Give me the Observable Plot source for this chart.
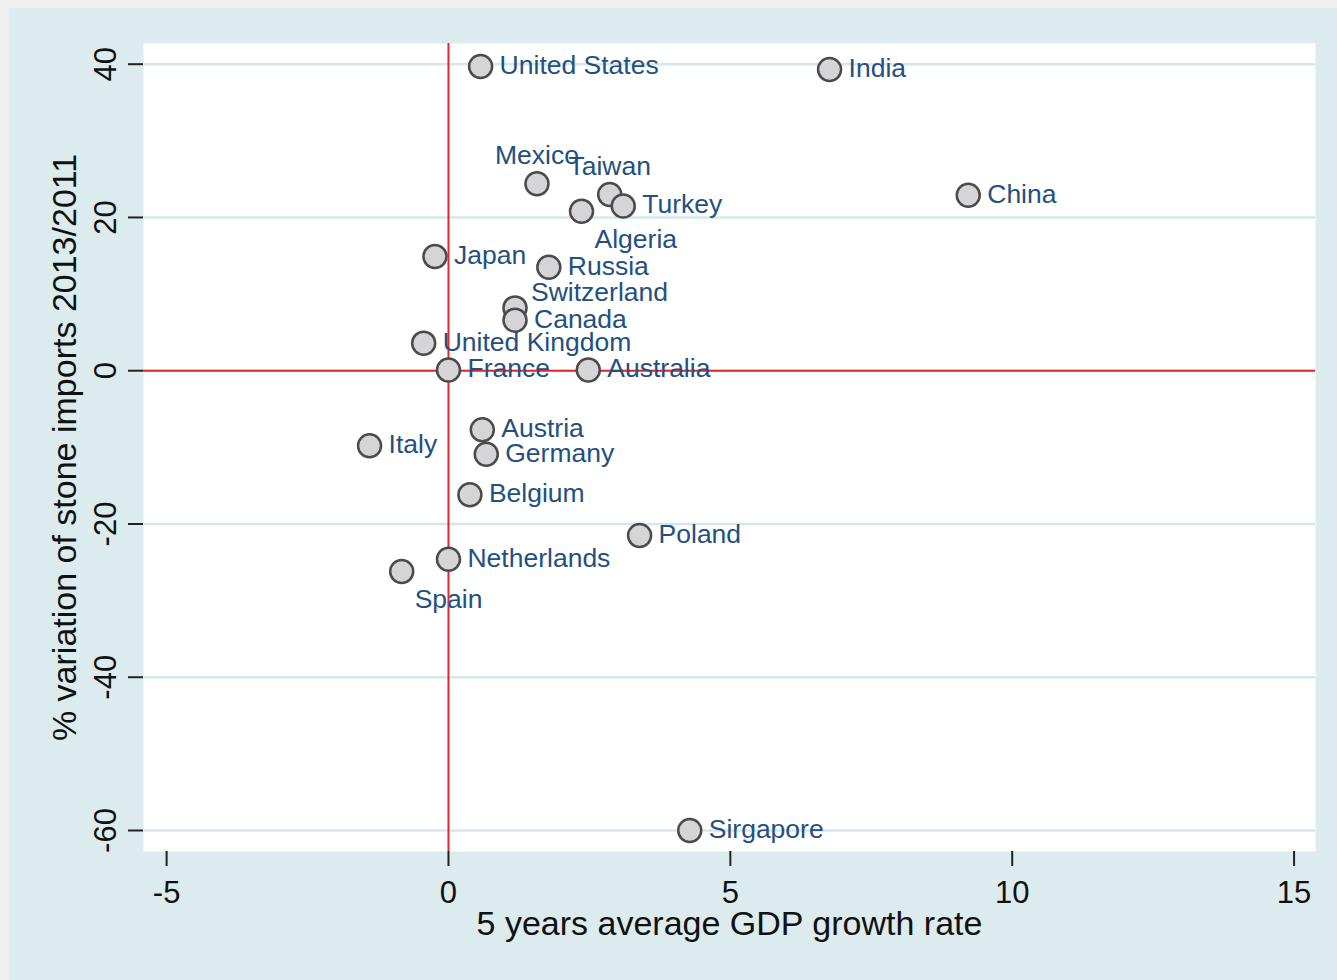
<!DOCTYPE html>
<html>
<head>
<meta charset="utf-8">
<script src="https://cdn.jsdelivr.net/npm/d3@7"></script>
<script src="https://cdn.jsdelivr.net/npm/@observablehq/plot@0.6"></script>
<style>
  html, body { margin: 0; padding: 0; background: #eff1f1; }
  #panel { position: absolute; left: 9px; top: 8px; width: 1328px; height: 972px; background: #dbebee; }
</style>
</head>
<body>
<div id="panel"></div>
<script>
// ---- data ----
const countries = ["United States", "India", "Mexico", "Taiwan", "Turkey", "Algeria", "China", "Japan", "Russia",
  "Switzerland", "Canada", "United Kingdom", "France", "Australia", "Italy", "Austria", "Germany", "Belgium",
  "Poland", "Netherlands", "Spain", "Sirgapore"];
const gdpGrowth = [0.57, 6.76, 1.57, 2.86, 3.10, 2.36, 9.22, -0.24, 1.78,
  1.18, 1.18, -0.44, 0.0, 2.48, -1.40, 0.60, 0.67, 0.38,
  3.39, 0.0, -0.83, 4.28];
const stoneImportVar = [39.7, 39.3, 24.4, 23.0, 21.5, 20.8, 22.9, 14.9, 13.5,
  8.2, 6.6, 3.6, 0.1, 0.1, -9.8, -7.7, -10.9, -16.2,
  -21.5, -24.6, -26.2, -60.0];
const xTicks = [-5, 0, 5, 10, 15];
const yTicks = [-60, -40, -20, 0, 20, 40];
const xTitle = "5 years average GDP growth rate";
const yTitle = "% variation of stone imports 2013/2011";

const rows = countries.map((c, i) => ({country: c, x: gdpGrowth[i], y: stoneImportVar[i]}));

// label placement (clock positions, default 3 o'clock)
const labelClock = {"Mexico": 12, "Taiwan": 12, "Algeria": 5, "Spain": 5, "Switzerland": 1};
const clockOf = d => labelClock[d.country] ?? 3;
const labelColor = "#24507f";
const labelFont = 26.5;

const chart = Plot.plot({
  width: 1328,
  height: 972,
  marginLeft: 134,
  marginRight: 22,
  marginTop: 35,
  marginBottom: 129,
  style: {fontFamily: "'Liberation Sans', Arial, Helvetica, sans-serif", background: "transparent", overflow: "visible"},
  x: {domain: [-5.41, 15.38]},
  y: {domain: [-62.74, 42.7]},
  marks: [
    Plot.frame({fill: "white", stroke: null}),
    Plot.gridY(yTicks, {stroke: "#d6e7ec", strokeOpacity: 1, strokeWidth: 2.5}),
    Plot.ruleX([0], {stroke: "#e3272c", strokeWidth: 2}),
    Plot.ruleY([0], {stroke: "#e3272c", strokeWidth: 2}),
    Plot.dot(rows, {x: "x", y: "y", r: 11.5, fill: "#d5d5d7", stroke: "#4b4b4b", strokeWidth: 2.5, fillOpacity: 1}),
    Plot.text(rows.filter(d => clockOf(d) === 3), {x: "x", y: "y", text: "country", textAnchor: "start", lineAnchor: "middle", dx: 19, dy: -1, fill: labelColor, fontSize: labelFont}),
    Plot.text(rows.filter(d => clockOf(d) === 12), {x: "x", y: "y", text: "country", textAnchor: "middle", lineAnchor: "middle", dy: -28, fill: labelColor, fontSize: labelFont}),
    Plot.text(rows.filter(d => clockOf(d) === 5), {x: "x", y: "y", text: "country", textAnchor: "start", lineAnchor: "middle", dx: 13, dy: 28, fill: labelColor, fontSize: labelFont}),
    Plot.text(rows.filter(d => clockOf(d) === 1), {x: "x", y: "y", text: "country", textAnchor: "start", lineAnchor: "middle", dx: 16, dy: -15, fill: labelColor, fontSize: labelFont}),
    Plot.axisX({ticks: xTicks, tickFormat: d => `${d}`, tickSize: 15, tickPadding: 14, fontSize: 31, label: null, line: true, stroke: "#222", strokeWidth: 2, color: "#111"}),
    Plot.axisY({ticks: yTicks, tickFormat: d => `${d}`, tickSize: 15, tickPadding: 13, tickRotate: -90, fontSize: 31, label: null, line: true, stroke: "#222", strokeWidth: 2, color: "#111"}),
    Plot.text([xTitle], {frameAnchor: "bottom", dy: 73, textAnchor: "middle", lineAnchor: "middle", fontSize: 34, fill: "#111"}),
    Plot.text([yTitle], {frameAnchor: "left", dx: -78, rotate: -90, textAnchor: "middle", lineAnchor: "middle", fontSize: 34, fill: "#111"})
  ]
});
document.getElementById("panel").appendChild(chart);
</script>
</body>
</html>
